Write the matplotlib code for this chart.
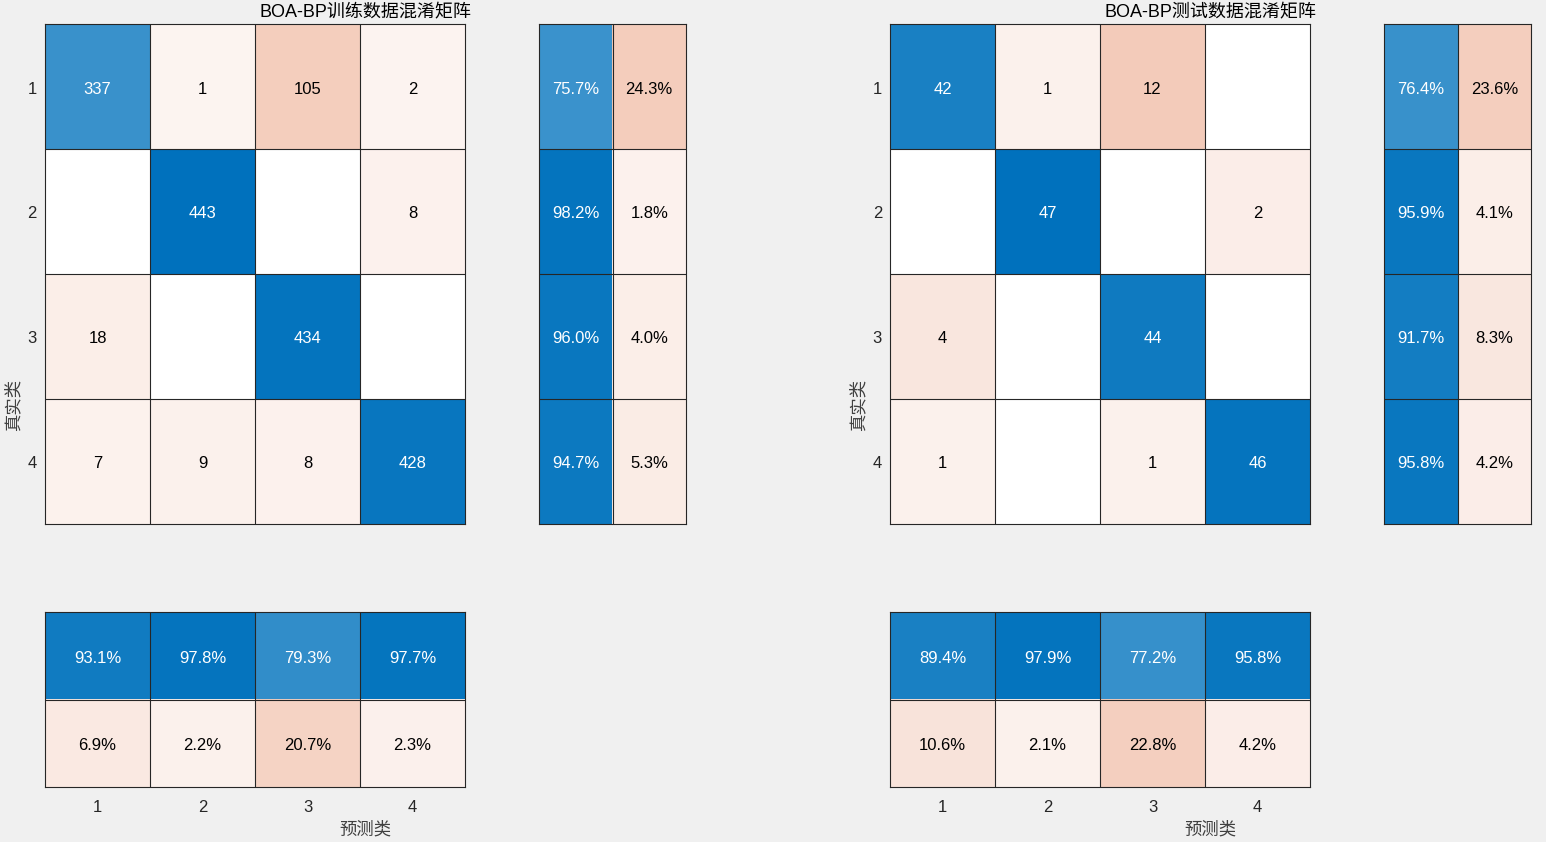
import numpy as np
import matplotlib
matplotlib.use("Agg")
import matplotlib.pyplot as plt
from matplotlib.transforms import offset_copy

plt.rcParams['font.family'] = ['Liberation Sans', 'Noto Sans CJK SC', 'DejaVu Sans']

classes = ['1', '2', '3', '4']
train_cm = np.array([[337, 1, 105, 2],
                     [0, 443, 0, 8],
                     [18, 0, 434, 0],
                     [7, 9, 8, 428]])
test_cm = np.array([[42, 1, 12, 0],
                    [0, 47, 0, 2],
                    [4, 0, 44, 0],
                    [1, 0, 1, 46]])
titles = ['BOA-BP训练数据混淆矩阵', 'BOA-BP测试数据混淆矩阵']
xlabel_txt = '预测类'
ylabel_txt = '真实类'

W, H = 1546, 842
BLUE = np.array([0, 114, 189]) / 255.0
RED = np.array([217, 83, 25]) / 255.0
WHITE = np.ones(3)
EDGE = '#262626'
TXT = '#262626'
FS = 12

fig = plt.figure(figsize=(W / 100, H / 100), dpi=100)
fig.patch.set_facecolor('#F0F0F0')


def ax_px(l, t, r, b):
    return fig.add_axes([l / W, 1 - b / H, (r - l) / W, (b - t) / H])


def blend(base, k):
    k = float(np.clip(k, 0, 1))
    k = 0.06 + 0.94 * k
    return WHITE + (base - WHITE) * k


def draw_cells(ax, colors, texts, tcolors):
    nr, nc = len(colors), len(colors[0])
    img = np.array(colors)
    ax.imshow(img, extent=(0, nc, nr, 0), aspect='auto', interpolation='nearest')
    tr = offset_copy(ax.transData, fig=fig, x=0, y=-2.5, units='dots')
    for i in range(nr):
        for j in range(nc):
            if texts[i][j]:
                ax.text(j + 0.5, i + 0.5, texts[i][j], ha='center', va='center',
                        fontsize=FS, color=tcolors[i][j], transform=tr)
    for x in range(1, nc):
        ax.axvline(x, color=EDGE, lw=0.8)
    for y in range(1, nr):
        ax.axhline(y, color=EDGE, lw=0.8)
    ax.set_xlim(0, nc)
    ax.set_ylim(nr, 0)
    for s in ax.spines.values():
        s.set_color(EDGE)
        s.set_linewidth(0.8)
    ax.set_xticks([])
    ax.set_yticks([])


def panel(cm, x0, title):
    n = cm.shape[0]
    mx = cm.max()
    # main matrix
    ax = ax_px(x0, 24, x0 + 420, 524)
    cols, txts, tcs = [], [], []
    for i in range(n):
        rc, rt, rtc = [], [], []
        for j in range(n):
            v = cm[i, j]
            k = v / mx
            base = BLUE if i == j else RED
            rc.append(blend(base, k) if v > 0 else WHITE)
            rt.append(str(v) if v > 0 else '')
            rtc.append('white' if (v > 0 and k > 0.5) else 'black')
        cols.append(rc); txts.append(rt); tcs.append(rtc)
    draw_cells(ax, cols, txts, tcs)
    for i, c in enumerate(classes):
        ax.text(-8 / 105.0, i + 0.5, c, ha='right', va='center', fontsize=FS, color=TXT,
                transform=offset_copy(ax.transData, fig=fig, x=0, y=-2.5, units='dots'),
                clip_on=False)

    # row summary
    rs = cm.sum(axis=1)
    axr = ax_px(x0 + 494, 24, x0 + 641, 524)
    cols, txts, tcs = [], [], []
    for i in range(n):
        p = cm[i, i] / rs[i]
        q = 1 - p
        cols.append([blend(BLUE, p), blend(RED, q)])
        txts.append([f'{p*100:.1f}%', f'{q*100:.1f}%'])
        tcs.append(['white' if p > 0.5 else 'black', 'white' if q > 0.5 else 'black'])
    draw_cells(axr, cols, txts, tcs)

    # column summary
    cs = cm.sum(axis=0)
    axc = ax_px(x0, 612, x0 + 420, 787)
    pr = [cm[j, j] / cs[j] for j in range(n)]
    cols = [[blend(BLUE, p) for p in pr], [blend(RED, 1 - p) for p in pr]]
    txts = [[f'{p*100:.1f}%' for p in pr], [f'{(1-p)*100:.1f}%' for p in pr]]
    tcs = [['white' if p > 0.5 else 'black' for p in pr],
           ['white' if (1 - p) > 0.5 else 'black' for p in pr]]
    draw_cells(axc, cols, txts, tcs)
    axc.set_xticks(np.arange(n) + 0.5)
    axc.set_xticklabels(classes, fontsize=FS, color=TXT)
    axc.tick_params(axis='x', length=0, pad=9)

    cx = (x0 + x0 + 641) / 2
    fig.text(cx / W, 1 - 12.5 / H, title, ha='center', va='center', fontsize=13, color='black')
    fig.text(cx / W, 1 - 829 / H, xlabel_txt, ha='center', va='center', fontsize=12.5,
             color='#404040', family=['Noto Sans CJK SC'])
    fig.text((x0 - 32) / W, 1 - 405 / H, ylabel_txt, ha='center', va='center', fontsize=12.5,
             color='#404040', rotation=90, family=['Noto Sans CJK SC'])


panel(train_cm, 45, titles[0])
panel(test_cm, 890, titles[1])

fig.savefig('out.png', dpi=100, facecolor=fig.get_facecolor())
